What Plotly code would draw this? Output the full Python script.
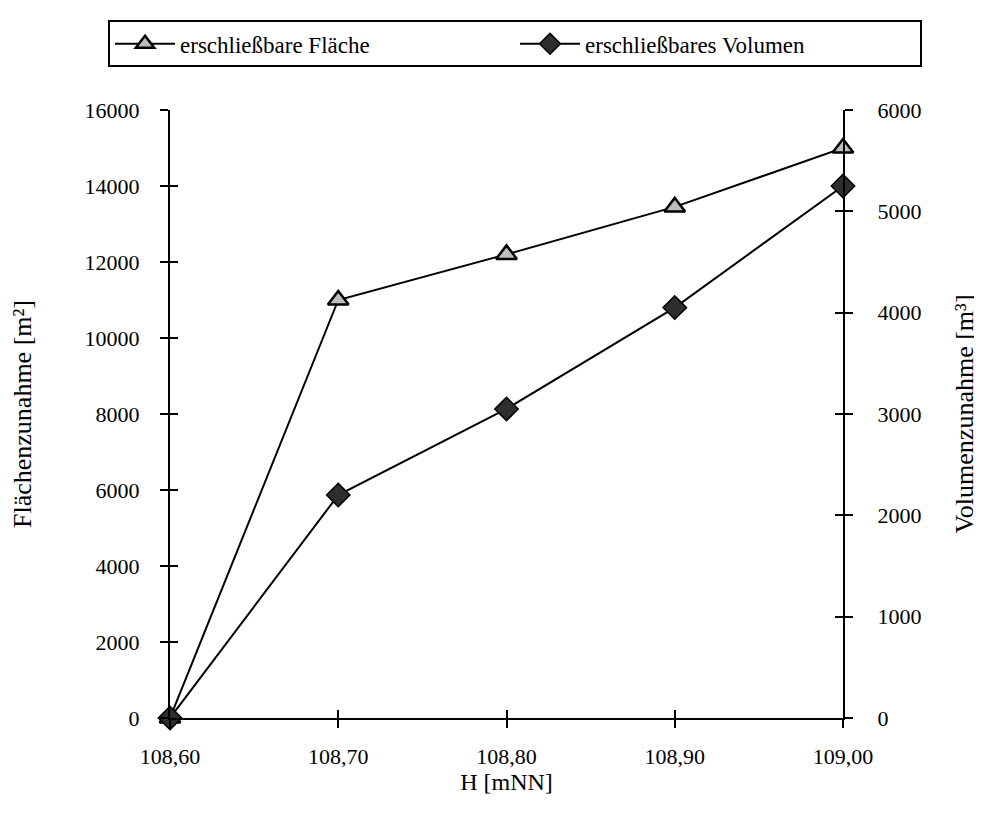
import plotly.graph_objects as go

h_values = [108.60, 108.70, 108.80, 108.90, 109.00]
flaeche = [0, 11000, 12200, 13450, 15000]
volumen = [0, 2200, 3050, 4050, 5250]

name_flaeche = "erschließbare Fläche"
name_volumen = "erschließbares Volumen"
x_title = "H [mNN]"
y_left_title = "Flächenzunahme [m²]"
y_right_title = "Volumenzunahme [m³]"

FONT = "Liberation Serif"
TICKSIZE = 22

fig = go.Figure()
fig.add_trace(go.Scatter(
    x=h_values, y=flaeche, name=name_flaeche, mode="lines+markers",
    line=dict(color="black", width=2),
    marker=dict(symbol="triangle-up", size=18, color="#bdbdbd",
                line=dict(color="black", width=2.5)),
    cliponaxis=False, yaxis="y"))
fig.add_trace(go.Scatter(
    x=h_values, y=volumen, name=name_volumen, mode="lines+markers",
    line=dict(color="black", width=2),
    marker=dict(symbol="diamond", size=18, color="#2e2e2e",
                line=dict(color="black", width=1.5)),
    cliponaxis=False, yaxis="y2"))

axis_common = dict(showgrid=False, zeroline=False, showline=True, automargin=False,
                   linecolor="black", linewidth=2, ticks="outside",
                   ticklen=8, tickwidth=2, tickcolor="black",
                   tickfont=dict(family=FONT, size=TICKSIZE, color="black"))

fig.update_layout(
    width=982, height=820,
    paper_bgcolor="white", plot_bgcolor="white",
    margin=dict(l=162, r=147, t=100, b=110),
    separators=",.",
    font=dict(family=FONT, size=TICKSIZE, color="black"),
    showlegend=True,
    legend=dict(orientation="h", x=-0.0921, xanchor="left", y=1.1475, yanchor="top",
                bordercolor="black", borderwidth=2, bgcolor="white",
                font=dict(family=FONT, size=23, color="black"),
                itemwidth=60, entrywidth=330, tracegroupgap=0),
    xaxis=dict(range=[108.6, 109.0], tickvals=h_values, tickformat=".2f",
               ticklabelstandoff=10,
               title=dict(text=x_title, font=dict(family=FONT, size=24), standoff=0),
               **axis_common),
    yaxis=dict(range=[0, 16000], dtick=2000, tickformat="d", ticklabelstandoff=16,
               title=dict(text=y_left_title, font=dict(family=FONT, size=26), standoff=50),
               **axis_common),
    yaxis2=dict(range=[0, 6000], dtick=1000, tickformat="d", overlaying="y", side="right",
                ticklabelstandoff=20,
                title=dict(text=y_right_title, font=dict(family=FONT, size=26), standoff=34),
                **axis_common),
    # duplicate axes for inside ticks (crossing ticks)
    xaxis2=dict(range=[108.6, 109.0], tickvals=h_values, overlaying="x", side="bottom",
                anchor="y", showticklabels=False, showline=False, showgrid=False,
                zeroline=False, ticks="inside", ticklen=8, tickwidth=2, tickcolor="black"),
    yaxis3=dict(range=[0, 16000], dtick=2000, overlaying="y", side="left",
                showticklabels=False, showline=False, showgrid=False, zeroline=False,
                ticks="inside", ticklen=8, tickwidth=2, tickcolor="black"),
    yaxis4=dict(range=[0, 6000], dtick=1000, overlaying="y", side="right",
                showticklabels=False, showline=False, showgrid=False, zeroline=False,
                ticks="inside", ticklen=8, tickwidth=2, tickcolor="black"),
)

# invisible helper traces to activate the inside-tick axes
fig.add_trace(go.Scatter(x=[h_values[0]], y=[0], xaxis="x2", yaxis="y3",
                         mode="markers", marker=dict(opacity=0), showlegend=False,
                         hoverinfo="skip"))
fig.add_trace(go.Scatter(x=[h_values[0]], y=[0], xaxis="x2", yaxis="y4",
                         mode="markers", marker=dict(opacity=0), showlegend=False,
                         hoverinfo="skip"))

fig.write_html("out.html")
